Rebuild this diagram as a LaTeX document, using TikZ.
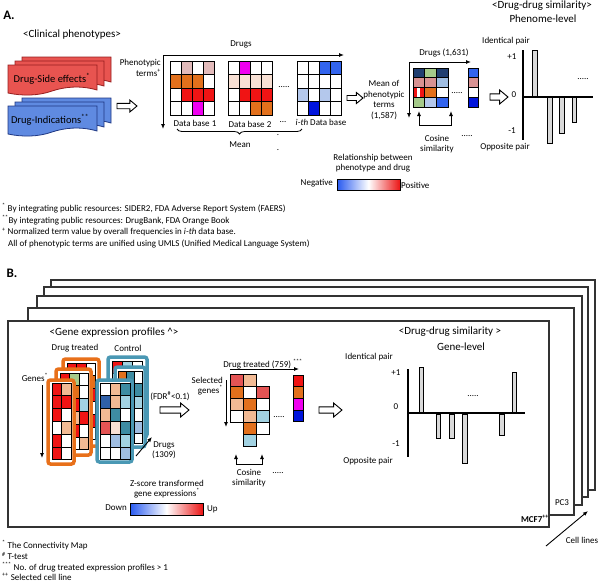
\documentclass[tikz,border=0pt]{standalone}
\usepackage{fontspec}
\setmainfont{Carlito}
\usetikzlibrary{arrows.meta, decorations.pathreplacing}
\definecolor{SideRed}{RGB}{232, 84, 80}
\definecolor{SideDark}{RGB}{150, 30, 30}
\definecolor{IndBlue}{RGB}{95, 138, 225}
\definecolor{IndDark}{RGB}{30, 55, 130}
\definecolor{CellRed}{RGB}{240, 20, 20}
\definecolor{CellOrange}{RGB}{226, 112, 28}
\definecolor{CellPeach}{RGB}{242, 186, 148}
\definecolor{CellPink}{RGB}{226, 186, 186}
\definecolor{CellBlush}{RGB}{248, 224, 212}
\definecolor{CellMagenta}{RGB}{240, 0, 240}
\definecolor{CellBlue}{RGB}{50, 100, 238}
\definecolor{CellDeep}{RGB}{0, 20, 220}
\definecolor{CellPale}{RGB}{180, 200, 236}
\definecolor{CellNavy}{RGB}{32, 62, 112}
\definecolor{CellGreen}{RGB}{165, 202, 138}
\definecolor{CellRose}{RGB}{216, 146, 146}
\definecolor{CellSky}{RGB}{160, 190, 226}
\definecolor{CellCoral}{RGB}{228, 84, 84}
\definecolor{CellTeal}{RGB}{62, 140, 162}
\definecolor{CellAqua}{RGB}{162, 210, 226}
\definecolor{CellCobalt}{RGB}{48, 96, 168}
\definecolor{CardOrange}{RGB}{232, 112, 26}
\definecolor{CardTeal}{RGB}{74, 152, 180}
\definecolor{NegBlue}{RGB}{40, 90, 240}
\definecolor{PosRed}{RGB}{235, 20, 20}

% one row of coloured cells: x, y, cell width, cell height, colours
\newcommand{\cellrow}[5]{%
  \foreach \cc [count=\k from 0] in {#5}
    \draw[cell, fill=\cc] ({#1+\k*#3},#2) rectangle ++(#3,#4);}
% sheet with a wavy lower edge: x, y, fill, border
\newcommand{\docsheet}[4]{%
  \draw[fill=#3, draw=#4, line width=0.8pt] (#1,#2) -- ({#1+89},#2) -- ({#1+89},{#2+25})
    .. controls ({#1+72},{#2+20}) and ({#1+56},{#2+22}) .. ({#1+44},{#2+26})
    .. controls ({#1+30},{#2+31}) and ({#1+14},{#2+31}) .. (#1,{#2+28}) -- cycle;}
% hollow block arrow: x, y, length, half head
\newcommand{\fatarrow}[4]{%
  \draw[line width=0.9pt, fill=white] (#1,{#2-0.45*#4}) -- ({#1+#3-1.2*#4},{#2-0.45*#4})
    -- ({#1+#3-1.2*#4},{#2-#4}) -- ({#1+#3},#2) -- ({#1+#3-1.2*#4},{#2+#4})
    -- ({#1+#3-1.2*#4},{#2+0.45*#4}) -- (#1,{#2+0.45*#4}) -- cycle;}

\begin{document}
\begin{tikzpicture}[x=1pt, y=-1pt,
  txt/.style={font=\fontsize{9}{10.4}\selectfont, inner sep=0pt, align=center},
  head/.style={font=\fontsize{11}{13}\selectfont, inner sep=0pt},
  note/.style={font=\fontsize{9}{10}\selectfont, inner sep=0pt, anchor=west},
  panel/.style={font=\fontsize{13}{15}\selectfont\bfseries, inner sep=0pt},
  cell/.style={draw=black, line width=0.8pt},
  arrow/.style={-{Latex[length=5pt, width=4pt]}, line width=0.9pt},
  axis/.style={line width=1.5pt},
  bar/.style={draw=black, fill=black!15, line width=0.6pt},
  card/.style={line width=3.5pt, rounded corners=2.5pt, fill=white},
  frame/.style={draw=black!80, line width=1.2pt, fill=white},
  legend/.style={draw=black, line width=0.8pt, left color=NegBlue, right color=PosRed, middle color=white}
]
\useasboundingbox (0,0) rectangle (600,582);

%% ---------------- A ----------------
\node[panel] (labA) at (9,15) {A.};
\node[head] (clin) at (72,35) {<Clinical phenotypes>};

\docsheet{22}{57}{SideRed}{SideDark}
\docsheet{15}{61}{SideRed}{SideDark}
\docsheet{8}{65}{SideRed}{SideDark}
\node[txt, font=\fontsize{10.5}{12}\selectfont] (docSE) at (52,79) {Drug-Side effects\textsuperscript{*}};
\docsheet{22}{98}{IndBlue}{IndDark}
\docsheet{15}{102}{IndBlue}{IndDark}
\docsheet{8}{106}{IndBlue}{IndDark}
\node[txt, font=\fontsize{10.5}{12}\selectfont] (docDI) at (50,120) {Drug-Indications\textsuperscript{**}};

\fatarrow{117}{106}{20}{6}

\node[txt, anchor=east, align=right] (pterms) at (161,68) {Phenotypic\\terms\textsuperscript{+}};
\coordinate (cornA) at (163,55);
\coordinate (downA) at (163,129);
\coordinate (rightA) at (344,55);
\draw[arrow] (cornA) -- (downA);
\draw[arrow] (cornA) -- (rightA);
\node[txt] (drugsA) at (241,44) {Drugs};

% data bases
\cellrow{170}{61}{11}{13.5}{white,CellPink,white,CellPink}
\cellrow{170}{74.5}{11}{13.5}{CellOrange,CellOrange,CellOrange,white}
\cellrow{170}{88}{11}{13.5}{white,CellRed,CellRed,CellRed}
\cellrow{170}{101.5}{11}{13.5}{white,white,CellMagenta,white}
\cellrow{228}{61}{11}{13.5}{white,CellMagenta,white,white}
\cellrow{228}{74.5}{11}{13.5}{CellBlush,CellBlush,CellBlush,CellBlush}
\cellrow{228}{88}{11}{13.5}{white,CellRed,CellRed,CellRed}
\cellrow{228}{101.5}{11}{13.5}{white,white,CellOrange,CellOrange}
\cellrow{297}{61}{11}{13.5}{white,white,CellBlue,CellBlue}
\cellrow{297}{74.5}{11}{13.5}{white,white,white,white}
\cellrow{297}{88}{11}{13.5}{CellPale,white,CellPale,white}
\cellrow{297}{101.5}{11}{13.5}{white,CellDeep,white,white}
\node[txt] (db1) at (195,123) {Data base 1};
\node[txt] (db2) at (250,124) {Data base 2};
\node[txt] (db2dots) at (283,122) {...};
\node[txt] (dbi) at (321,122) {\textit{i-th} Data base};
\node[txt] (dotsA) at (284,87) {.....};
\draw[line width=0.8pt, decorate, decoration={brace, mirror, amplitude=5pt}] (177,129) -- (302,129);
\node[txt] (meanA) at (240,145) {Mean};
\node[txt] (vdot1) at (278,135) {.};
\node[txt] (vdot2) at (278,150) {.};

\fatarrow{347}{98}{16}{5.5}

\node[txt] (meanterms) at (384,100) {Mean of\\phenotypic\\terms\\(1,587)};
\coordinate (cornA2) at (409,62);
\draw[arrow] (cornA2) -- (409,118);
\draw[arrow] (cornA2) -- (471,62);
\node[txt] (drugsA2) at (444,53) {Drugs (1,631)};
\cellrow{413}{68}{11.7}{9.75}{CellNavy,CellGreen,CellNavy}
\cellrow{413}{77.75}{11.7}{9.75}{CellRose,CellRose,CellSky}
\cellrow{413}{87.5}{11.7}{9.75}{CellRed,CellOrange,white}
\fill[white] (416.5,88) rectangle (420,96.8);
\cellrow{413}{97.25}{11.7}{9.75}{CellGreen,CellPale,CellBlue}
\node[txt] (dotsA2) at (457,93) {.....};
\foreach \cc [count=\k from 0] in {CellBlue,CellRose,white,CellDeep}
  \draw[cell, fill=\cc] (468,{68+\k*9.75}) rectangle ++(10.5,9.75);
\coordinate (cosA1) at (419,125);
\coordinate (cosA2) at (451,125);
\draw[{Latex[length=5pt, width=4pt]}-{Latex[length=5pt, width=4pt]}, line width=0.9pt]
  (419,111) -- (cosA1) -- (cosA2) -- (451,111);
\node[txt] (cosA) at (437,144) {Cosine\\similarity};
\node[txt] (dotsA3) at (467,136) {.....};

\fatarrow{490}{97}{18}{7}

\node[head] (simA) at (542,6) {<Drug-drug similarity>};
\node[head] (phenlvl) at (543,19) {Phenome-level};
\node[txt] (idA) at (506,41) {Identical pair};
\node[txt] (opA) at (505,147) {Opposite pair};
\node[txt] (pA1) at (512,57) {+1};
\node[txt] (pA0) at (514,95) {0};
\node[txt] (pAm1) at (512,131) {-1};
\draw[bar] (532,50) rectangle (537,97);
\draw[bar] (547,97) rectangle (552,143);
\draw[bar] (559,97) rectangle (564,133);
\draw[bar] (572,97) rectangle (576,122);
\draw[axis] (523,50) -- (523,140);
\draw[axis] (523,97) -- (593,97);
\node[txt] (dotsA4) at (583,79) {.....};

% legend
\node[txt] (relA) at (373,163) {Relationship between\\phenotype and drug};
\draw[legend] (337,179) rectangle (400,190);
\node[txt, anchor=east] (negA) at (333,183) {Negative};
\node[txt, anchor=west] (posA) at (401,185) {Positive};

\node[note] (fnA1) at (2,208) {\textsuperscript{*} By integrating public resources: SIDER2, FDA Adverse Report System (FAERS)};
\node[note] (fnA2) at (2,220) {\textsuperscript{**}By integrating public resources: DrugBank, FDA Orange Book};
\node[note] (fnA3) at (2,232) {\textsuperscript{+} Normalized term value by overall frequencies in \textit{i-th} data base.};
\node[note] (fnA4) at (8,244) {All of phenotypic terms are unified using UMLS (Unified Medical Language System)};

%% ---------------- B ----------------
\node[panel] (labB) at (12,273) {B.};
\draw[frame] (51,280) rectangle (595,490);
\draw[frame] (44,287) rectangle (588,497);
\draw[frame] (37,296) rectangle (582,505);
\draw[frame] (28,308) rectangle (574,515);
\draw[frame] (8,321) rectangle (549,527);
\node[txt] (pc3) at (562,503) {PC3};
\node[txt, font=\fontsize{9}{10}\selectfont\bfseries] (mcf7) at (535,519) {MCF7\textsuperscript{++}};
\coordinate (cellsS) at (546,546);
\coordinate (cellsE) at (588,511);
\draw[arrow] (cellsS) -- (cellsE);
\node[txt] (cells) at (582,540) {Cell lines};

\node[head] (geneprof) at (114,333) {<Gene expression profiles \textasciicircum>};
\node[txt] (treated) at (75,348) {Drug treated};
\node[txt] (control) at (128,348) {Control};
\node[txt] (genes) at (35,377) {Genes\textsuperscript{*}};
\draw[arrow] (42,385) -- (42,458);

% drug treated cards
\draw[card, draw=CardOrange] (63,359) rectangle (99,446);
\cellrow{67}{363}{9.5}{12.8}{CellRed,CellRed,white}
\cellrow{67}{375.8}{9.5}{12.8}{white,CellRed,CellOrange}
\cellrow{67}{388.6}{9.5}{12.8}{CellRed,white,CellRed}
\cellrow{67}{401.4}{9.5}{12.8}{CellPeach,CellRed,white}
\cellrow{67}{414.2}{9.5}{12.8}{CellRed,white,CellRed}
\cellrow{67}{427}{9.5}{12.8}{white,CellRed,white}
\draw[card, draw=CardOrange] (56,369) rectangle (91,455);
\cellrow{60}{373}{9.5}{12.8}{CellRed,CellGreen,white}
\cellrow{60}{385.8}{9.5}{12.8}{CellRed,CellOrange,white}
\cellrow{60}{398.6}{9.5}{12.8}{white,CellRed,CellAqua}
\cellrow{60}{411.4}{9.5}{12.8}{CellRed,CellPeach,CellRed}
\cellrow{60}{424.2}{9.5}{12.8}{white,CellRed,white}
\cellrow{60}{437}{9.5}{12.8}{CellRed,white,CellPeach}
\draw[card, draw=CardOrange] (48,380) rectangle (74,464);
\cellrow{52}{383}{9.5}{12.8}{CellRed,CellPeach}
\cellrow{52}{395.8}{9.5}{12.8}{CellRed,CellRed}
\cellrow{52}{408.6}{9.5}{12.8}{CellRed,white}
\cellrow{52}{421.4}{9.5}{12.8}{white,CellPeach}
\cellrow{52}{434.2}{9.5}{12.8}{CellRed,white}
\cellrow{52}{447}{9.5}{12.8}{CellRed,white}

% control cards
\draw[card, draw=CardTeal] (108,357) rectangle (147,437);
\cellrow{112}{361}{10}{12.5}{CellRed,CellAqua,white}
\cellrow{112}{373.5}{10}{12.5}{white,CellTeal,CellRed}
\cellrow{112}{386}{10}{12.5}{CellAqua,white,CellRed}
\cellrow{112}{398.5}{10}{12.5}{white,CellSky,CellRed}
\cellrow{112}{411}{10}{12.5}{CellTeal,white,CellRed}
\cellrow{112}{423.5}{10}{10}{white,CellAqua,CellRed}
\draw[card, draw=CardTeal] (115,367) rectangle (145,447);
\cellrow{118.5}{371}{8}{12.5}{CellOrange,CellTeal,white}
\cellrow{118.5}{383.5}{8}{12.5}{white,CellAqua,CellTeal}
\cellrow{118.5}{396}{8}{12.5}{CellSky,white,CellAqua}
\cellrow{118.5}{408.5}{8}{12.5}{white,CellTeal,white}
\cellrow{118.5}{421}{8}{12.5}{CellAqua,white,CellSky}
\cellrow{118.5}{433.5}{8}{10}{white,CellSky,white}
\draw[card, draw=CardTeal] (97,380) rectangle (132,462);
\cellrow{100.5}{383}{9.8}{12.8}{white,CellPeach,CellTeal}
\cellrow{100.5}{395.8}{9.8}{12.8}{CellCobalt,CellPeach,CellAqua}
\cellrow{100.5}{408.6}{9.8}{12.8}{CellPeach,CellTeal,white}
\cellrow{100.5}{421.4}{9.8}{12.8}{CellCoral,CellBlush,CellTeal}
\cellrow{100.5}{434.2}{9.8}{12.8}{white,CellSky,CellAqua}
\cellrow{100.5}{447}{9.8}{12.8}{white,white,CellSky}

\draw[arrow] (136,456) -- (152,437);
\node[txt] (drugsB) at (164,450) {Drugs\\(1309)};
\node[txt] (fdr) at (170,396) {(FDR\textsuperscript{\#}<0.1)};
\fatarrow{160}{410}{29}{7}

% selected genes
\node[txt] (treatedB) at (263,364) {Drug treated (759) \textsuperscript{***}};
\draw[arrow] (230,369) -- (299,369);
\node[txt, anchor=east, align=right] (selgenes) at (223,386) {Selected\\genes\textsuperscript{*}};
\draw[arrow] (226,380) -- (226,427);
\foreach \cc [count=\k from 0] in {CellCoral,CellOrange,CellPeach,white}
  \draw[cell, fill=\cc] (230,{374+\k*12}) rectangle ++(13,12);
\foreach \cc [count=\k from 0] in {CellPeach,white,CellOrange,CellPeach,CellOrange,CellAqua}
  \draw[cell, fill=\cc] (243,{374+\k*12}) rectangle ++(13,12);
\foreach \cc [count=\k from 0] in {CellCoral,white,CellAqua,white}
  \draw[cell, fill=\cc] (256,{386+\k*12}) rectangle ++(13,12);
\foreach \cc [count=\k from 0] in {CellRed,CellOrange,CellMagenta,CellDeep}
  \draw[cell, fill=\cc] (293,{375+\k*11.7}) rectangle ++(10.5,11.7);
\node[txt] (dotsB1) at (279,417) {.....};
\coordinate (cosB1) at (236,464);
\coordinate (cosB2) at (262,464);
\draw[{Latex[length=5pt, width=4pt]}-{Latex[length=5pt, width=4pt]}, line width=0.9pt]
  (236,454) -- (cosB1) -- (cosB2) -- (262,454);
\node[txt] (cosB) at (249,478) {Cosine\\similarity};
\node[txt] (dotsB2) at (278,473) {.....};

% legend
\node[txt] (zscore) at (167,489) {Z-score transformed\\gene expressions\textsuperscript{*}};
\draw[legend] (130,503) rectangle (203,515);
\node[txt, anchor=east] (down) at (127,508) {Down};
\node[txt, anchor=west] (up) at (207,509) {Up};

\fatarrow{319}{410}{23}{7}

\node[head] (simB) at (450,332) {<Drug-drug similarity >};
\node[head] (genelvl) at (461,347) {Gene-level};
\node[txt] (idB) at (369,357) {Identical pair};
\node[txt] (opB) at (368,461) {Opposite pair};
\node[txt] (pB1) at (396,373) {+1};
\node[txt] (pB0) at (396,407) {0};
\node[txt] (pBm1) at (396,444) {-1};
\draw[bar] (419,367) rectangle (423,413);
\draw[bar] (436,414) rectangle (440,438);
\draw[bar] (449,414) rectangle (454,438);
\draw[bar] (462,414) rectangle (467,463);
\draw[bar] (499,414) rectangle (504,435);
\draw[bar] (512,372) rectangle (516,413);
\draw[axis] (408,369) -- (408,457);
\draw[axis] (408,413) -- (525,413);
\node[txt] (dotsB3) at (473,396) {.....};

\node[note] (fnB1) at (2,545) {\textsuperscript{*} The Connectivity Map};
\node[note] (fnB2) at (2,556) {\textsuperscript{\#} T-test};
\node[note] (fnB3) at (2,567) {\textsuperscript{***} No. of drug treated expression profiles > 1};
\node[note] (fnB4) at (2,577) {\textsuperscript{++} Selected cell line};
\end{tikzpicture}
\end{document}
